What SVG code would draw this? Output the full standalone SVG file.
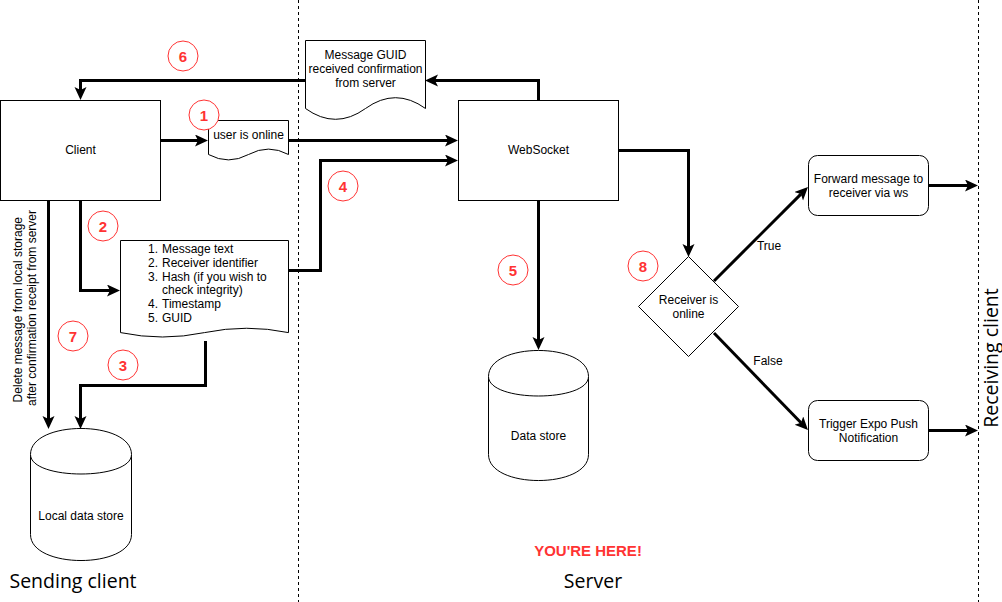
<svg xmlns="http://www.w3.org/2000/svg" width="1002" height="602" viewBox="0 0 1002 602">
  <style>
    .shape { fill: #ffffff; stroke: #000000; stroke-width: 1; }
    .lane { fill: none; stroke: #000000; stroke-width: 1; stroke-dasharray: 3 3; }
    .edge { fill: none; stroke: #000000; stroke-width: 3; marker-end: url(#head); }
    .lbl { font-family: "Liberation Sans", Arial, Helvetica, sans-serif; font-size: 12px; fill: #000000; text-anchor: middle; }
    .lst { font-family: "Liberation Sans", Arial, Helvetica, sans-serif; font-size: 12px; fill: #000000; }
    .lane-title { font-family: "Open Sans", "Liberation Sans", sans-serif; font-size: 19.5px; fill: #000000; text-anchor: middle; }
    .badge circle { fill: #ffffff; stroke: #ff3333; stroke-width: 1; }
    .badge text { font-family: "Liberation Sans", Arial, sans-serif; font-size: 15px; font-weight: bold; fill: #ff3333; text-anchor: middle; }
  </style>
  <defs>
    <marker id="head" markerUnits="userSpaceOnUse" markerWidth="16" markerHeight="14" refX="3" refY="6" orient="auto">
      <path d="M0,0 L13,6 L0,12 L3,6 Z" fill="#000000"/>
    </marker>
  </defs>

  <rect x="0" y="0" width="1002" height="602" fill="#ffffff"/>

  <!-- swimlane separators -->
  <g id="lanes">
    <line class="lane" x1="298.5" y1="0" x2="298.5" y2="602"/>
    <line class="lane" x1="978.5" y1="0" x2="978.5" y2="602"/>
    <text class="lane-title" x="73" y="588">Sending client</text>
    <text class="lane-title" x="593" y="588">Server</text>
    <text class="lane-title" transform="translate(998,358) rotate(-90)" x="0" y="0">Receiving client</text>
  </g>

  <!-- connectors -->
  <g id="connectors">
    <path class="edge" d="M538.5,100 V80.5 H435"/>
    <path class="edge" d="M305,80.5 H80.5 V90"/>
    <path class="edge" d="M160,140.5 H198"/>
    <path class="edge" d="M288,140.5 H448"/>
    <path class="edge" d="M288,270.5 H320.5 V160.5 H448"/>
    <path class="edge" d="M80.5,200 V290.5 H110"/>
    <path class="edge" d="M48.5,200 V419"/>
    <path class="edge" d="M205.5,341 V385.5 H80.5 V419"/>
    <path class="edge" d="M538.5,200 V340"/>
    <path class="edge" d="M618,150.5 H688.5 V247"/>
    <path class="edge" d="M714,281 L800.9,194.1"/>
    <path class="edge" d="M714,333 L801,422.8"/>
    <path class="edge" d="M928,185.5 H968"/>
    <path class="edge" d="M928,430.5 H968"/>
    <text class="lbl" x="769" y="250">True</text>
    <text class="lbl" x="768" y="365">False</text>
    <text class="lst" font-size="11.7" text-anchor="middle" transform="translate(0,308) rotate(-90)">
      <tspan x="0" y="22">Delete message from local storage</tspan>
      <tspan x="0" y="36">after confirmation receipt from server</tspan>
    </text>
  </g>

  <g id="client">
    <rect class="shape" x="0.5" y="100.5" width="160" height="100"/>
    <text class="lbl" x="80.5" y="154">Client</text>
  </g>

  <g id="guid-confirmation">
    <path class="shape" d="M305.5,40.5 H425.5 V108.5 Q395.5,86.9 365.5,108.5 Q335.5,130.1 305.5,108.5 Z"/>
    <text class="lbl" x="365.5" y="59">Message GUID</text>
    <text class="lbl" x="365.5" y="73">received confirmation</text>
    <text class="lbl" x="365.5" y="87">from server</text>
  </g>

  <g id="user-online">
    <path class="shape" d="M208.5,120.5 H288.5 V154.5 Q268.5,143.7 248.5,154.5 Q228.5,165.3 208.5,154.5 Z"/>
    <text class="lbl" x="248.5" y="139">user is online</text>
  </g>

  <g id="message-payload">
    <path class="shape" d="M120.5,240.5 H288.5 V332.6 Q246.5,323.9 204.5,332.6 Q162.5,341.4 120.5,332.6 Z"/>
    <text class="lst">
      <tspan x="148" y="252.5">1.</tspan><tspan x="162" y="252.5">Message text</tspan>
      <tspan x="148" y="266.5">2.</tspan><tspan x="162" y="266.5">Receiver identifier</tspan>
      <tspan x="148" y="280.5">3.</tspan><tspan x="162" y="280.5">Hash (if you wish to</tspan>
      <tspan x="162" y="294">check integrity)</tspan>
      <tspan x="148" y="308">4.</tspan><tspan x="162" y="308">Timestamp</tspan>
      <tspan x="148" y="322">5.</tspan><tspan x="162" y="322">GUID</tspan>
    </text>
  </g>

  <g id="local-data-store">
    <path class="shape" d="M30.5,454.5 C30.5,419.8 131.5,419.8 131.5,454.5 L131.5,534.5 C131.5,569.2 30.5,569.2 30.5,534.5 Z"/>
    <path class="shape" fill="none" d="M30.5,454.5 C30.5,480.5 131.5,480.5 131.5,454.5"/>
    <text class="lbl" x="81" y="520">Local data store</text>
  </g>

  <g id="websocket">
    <rect class="shape" x="458.5" y="100.5" width="160" height="100"/>
    <text class="lbl" x="538.5" y="154">WebSocket</text>
  </g>

  <g id="data-store">
    <path class="shape" d="M488.5,376.5 C488.5,341.8 588.5,341.8 588.5,376.5 L588.5,454.5 C588.5,489.2 488.5,489.2 488.5,454.5 Z"/>
    <path class="shape" fill="none" d="M488.5,376.5 C488.5,402.5 588.5,402.5 588.5,376.5"/>
    <text class="lbl" x="538.5" y="440">Data store</text>
  </g>

  <g id="receiver-online">
    <path class="shape" d="M688.5,256.5 L738.5,306.5 L688.5,356.5 L638.5,306.5 Z"/>
    <text class="lbl" x="688.5" y="304">Receiver is</text>
    <text class="lbl" x="688.5" y="318">online</text>
  </g>

  <g id="forward-message">
    <rect class="shape" x="808.5" y="155.5" width="120" height="60" rx="9"/>
    <text class="lbl" x="868.5" y="183">Forward message to</text>
    <text class="lbl" x="868.5" y="197">receiver via ws</text>
  </g>

  <g id="push-notification">
    <rect class="shape" x="808.5" y="400.5" width="120" height="60" rx="9"/>
    <text class="lbl" x="868.5" y="428">Trigger Expo Push</text>
    <text class="lbl" x="868.5" y="442">Notification</text>
  </g>

  <!-- numbered step badges -->
  <g id="step-1" class="badge"><circle cx="204" cy="115" r="15"/><text x="204" y="121">1</text></g>
  <g id="step-2" class="badge"><circle cx="103" cy="226" r="15"/><text x="103" y="232">2</text></g>
  <g id="step-3" class="badge"><circle cx="123" cy="365" r="15"/><text x="123" y="371">3</text></g>
  <g id="step-4" class="badge"><circle cx="343" cy="186" r="15"/><text x="343" y="192">4</text></g>
  <g id="step-5" class="badge"><circle cx="513" cy="270" r="15"/><text x="513" y="276">5</text></g>
  <g id="step-6" class="badge"><circle cx="183" cy="56" r="15"/><text x="183" y="62">6</text></g>
  <g id="step-7" class="badge"><circle cx="73" cy="336" r="15"/><text x="73" y="342">7</text></g>
  <g id="step-8" class="badge"><circle cx="643" cy="266" r="15"/><text x="643" y="272">8</text></g>

  <text id="you-are-here" x="588" y="556" font-family="Liberation Sans, Arial, sans-serif" font-size="15" font-weight="bold" fill="#ff3333" text-anchor="middle">YOU'RE HERE!</text>
</svg>
